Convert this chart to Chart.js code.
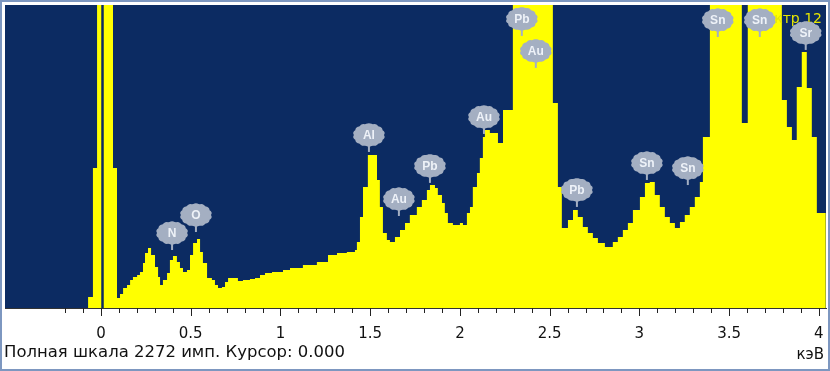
<!DOCTYPE html>
<html>
<head>
<meta charset="utf-8">
<script src="https://cdn.jsdelivr.net/npm/chart.js@4/dist/chart.umd.min.js"></script>
<style>
  html, body { margin: 0; padding: 0; background: #fff; }
  canvas { display: block; }
</style>
</head>
<body>
<canvas id="spectrum" width="830" height="371"></canvas>
<script>
// ── Data ──────────────────────────────────────────────────────────────────────
// step start energy, keV
const channelKeV = [
  -0.535, -0.072, -0.045, -0.022, 0.067, 0.089, 0.106, 0.123, 0.145, 0.162,
  0.178, 0.201, 0.217, 0.234, 0.245, 0.262, 0.279, 0.301, 0.318, 0.329,
  0.345, 0.368, 0.384, 0.401, 0.423, 0.440, 0.457, 0.479, 0.496, 0.513,
  0.535, 0.552, 0.568, 0.591, 0.618, 0.635, 0.652, 0.674, 0.691, 0.708,
  0.735, 0.763, 0.791, 0.830, 0.858, 0.886, 0.914, 0.953, 1.014, 1.053,
  1.125, 1.203, 1.265, 1.315, 1.370, 1.415, 1.426, 1.443, 1.460, 1.487,
  1.538, 1.554, 1.571, 1.593, 1.610, 1.638, 1.666, 1.694, 1.721, 1.760,
  1.788, 1.816, 1.833, 1.861, 1.877, 1.900, 1.916, 1.933, 1.961, 2.000,
  2.017, 2.039, 2.056, 2.072, 2.095, 2.111, 2.128, 2.139, 2.167, 2.212,
  2.240, 2.295, 2.518, 2.546, 2.568, 2.602, 2.630, 2.657, 2.685, 2.713,
  2.741, 2.769, 2.808, 2.852, 2.880, 2.908, 2.936, 2.964, 3.003, 3.031,
  3.058, 3.086, 3.114, 3.142, 3.170, 3.198, 3.226, 3.253, 3.281, 3.309,
  3.337, 3.354, 3.393, 3.571, 3.604, 3.794, 3.822, 3.850, 3.877, 3.905,
  3.933, 3.961, 3.989, 4.039
];
// counts per step (full scale 2272)
const counts = [
  0, 82, 1050, 2272, 1050, 75, 105, 150, 172, 210,
  232, 248, 270, 338, 412, 450, 398, 308, 232, 172,
  210, 262, 360, 390, 345, 300, 270, 285, 398, 488,
  518, 420, 338, 225, 210, 172, 150, 158, 195, 225,
  225, 202, 210, 218, 225, 248, 262, 270, 285, 300,
  322, 345, 398, 412, 420, 435, 495, 682, 908, 1148,
  960, 758, 562, 510, 495, 532, 585, 638, 698, 758,
  810, 885, 922, 900, 848, 788, 712, 638, 622, 638,
  622, 712, 758, 908, 1012, 1125, 1282, 1335, 1312, 1238,
  1485, 2272, 1538, 908, 600, 660, 735, 682, 608, 562,
  525, 488, 458, 495, 532, 585, 638, 735, 832, 938,
  945, 848, 758, 682, 638, 600, 645, 698, 758, 832,
  945, 1282, 2272, 1388, 2272, 1560, 1358, 1260, 1658, 1920,
  1650, 1282, 712, 712
];

const tickKeV = [
  -0.2, -0.1, 0, 0.1, 0.2, 0.3, 0.4, 0.5, 0.6, 0.7, 0.8, 0.9, 1, 1.1, 1.2,
  1.3, 1.4, 1.5, 1.6, 1.7, 1.8, 1.9, 2, 2.1, 2.2, 2.3, 2.4, 2.5, 2.6, 2.7,
  2.8, 2.9, 3, 3.1, 3.2, 3.3, 3.4, 3.5, 3.6, 3.7, 3.8, 3.9, 4
];

const peakNames = ["N", "O", "Al", "Au", "Pb", "Au", "Pb", "Au", "Pb", "Sn", "Sn", "Sn", "Sn", "Sr"];
const peakKeV   = [0.396, 0.529, 1.493, 1.660, 1.833, 2.134, 2.345, 2.423, 2.652, 3.042, 3.270, 3.437, 3.671, 3.927];
const peakTip   = [435, 570, 1170, 690, 938, 1305, 2040, 1800, 758, 960, 922, 2032, 2032, 1935];

const fullScale = 2272;
const cursorKeV = 0;
const spectrumName = "Спектр 12";
const captionText = "Полная шкала 2272 имп. Курсор: 0.000";
const unitText = "кэВ";

// ── Style ─────────────────────────────────────────────────────────────────────
const NAVY = "#0c2b62";
const YELLOW = "#ffff00";
const BADGE = "#a4afc2";
const FONT = "DejaVu Sans";

const isMajor = v => Math.abs(v * 2 - Math.round(v * 2)) < 1e-6;

// backdrop, cursor, peak badges, tick marks and captions
const spectrumDecor = {
    id: "spectrumDecor",
    beforeDraw(chart) {
        const { ctx, chartArea: a, width, height } = chart;
        ctx.save();
        ctx.fillStyle = "#fff";
        ctx.fillRect(0, 0, width, height);
        ctx.fillStyle = NAVY;
        ctx.fillRect(a.left, a.top, a.right - a.left, a.bottom - a.top);
        ctx.restore();
    },
    afterDatasetsDraw(chart) {
        const { ctx, chartArea: a } = chart;
        const x = chart.scales.x, y = chart.scales.y;
        ctx.save();

        // cursor line
        const cx = x.getPixelForValue(cursorKeV) + 1.5;
        ctx.strokeStyle = NAVY;
        ctx.lineWidth = 2.5;
        ctx.beginPath();
        ctx.moveTo(cx, a.top);
        ctx.lineTo(cx, a.bottom);
        ctx.stroke();

        // spectrum name, top right
        ctx.fillStyle = "#e6e600";
        ctx.font = `14px ${FONT}`;
        ctx.textAlign = "right";
        ctx.textBaseline = "middle";
        ctx.fillText(spectrumName, a.right - 4, a.top + 14);

        // peak badges
        peakNames.forEach((name, i) => {
            const px = x.getPixelForValue(peakKeV[i]);
            const tip = y.getPixelForValue(peakTip[i]);
            const by = tip - 17;
            const rx = 15, ry = 11;

            ctx.strokeStyle = BADGE;
            ctx.lineWidth = 2;
            ctx.beginPath();
            ctx.moveTo(px, by + ry - 2);
            ctx.lineTo(px, tip);
            ctx.stroke();

            ctx.fillStyle = BADGE;
            ctx.beginPath();
            for (let k = 0; k <= 72; k++) {
                const t = (k / 72) * Math.PI * 2;
                const bump = 1 + 0.07 * Math.abs(Math.sin(t * 7));
                const qx = px + Math.cos(t) * rx * bump;
                const qy = by + Math.sin(t) * ry * bump;
                if (k === 0) ctx.moveTo(qx, qy); else ctx.lineTo(qx, qy);
            }
            ctx.closePath();
            ctx.fill();

            ctx.fillStyle = "#eef2f8";
            ctx.font = `bold 12px "Liberation Sans"`;
            ctx.textAlign = "center";
            ctx.textBaseline = "middle";
            ctx.fillText(name, px, by + 1);
        });
        ctx.restore();
    },
    afterDraw(chart) {
        const { ctx, chartArea: a, width, height } = chart;
        const x = chart.scales.x;
        ctx.save();

        // tick marks
        ctx.strokeStyle = "#222";
        ctx.lineWidth = 1;
        for (const t of x.ticks) {
            const px = Math.round(x.getPixelForValue(t.value)) + 0.5;
            const len = isMajor(t.value) ? 8 : 5;
            ctx.beginPath();
            ctx.moveTo(px, a.bottom);
            ctx.lineTo(px, a.bottom + len);
            ctx.stroke();
        }

        // caption and unit, stretched to the original width
        ctx.fillStyle = "#111";
        ctx.font = `15px ${FONT}`;
        ctx.textBaseline = "middle";
        ctx.textAlign = "left";
        const w = ctx.measureText(captionText).width;
        ctx.save();
        ctx.translate(4, 353);
        ctx.scale(341 / w, 1);
        ctx.fillText(captionText, 0, 0);
        ctx.restore();
        ctx.textAlign = "right";
        ctx.fillText(unitText, 824, 355);

        // outer frame
        ctx.strokeStyle = "#7d97c0";
        ctx.lineWidth = 2;
        ctx.strokeRect(1, 1, width - 2, height - 2);
        ctx.restore();
    }
};

const points = channelKeV.map((e, i) => ({ x: e, y: counts[i] }));

new Chart(document.getElementById("spectrum"), {
    type: "line",
    data: {
        datasets: [{
            data: points,
            stepped: "before",
            fill: "origin",
            backgroundColor: YELLOW,
            borderWidth: 0,
            pointRadius: 0,
        }]
    },
    options: {
        responsive: false,
        animation: false,
        devicePixelRatio: 1,
        layout: { padding: { left: 5, right: 4, top: 5, bottom: 0 } },
        plugins: {
            legend: { display: false },
            tooltip: { enabled: false },
        },
        scales: {
            x: {
                type: "linear",
                min: -0.535,
                max: 4.04,
                afterBuildTicks: scale => {
                    scale.ticks = tickKeV.map(v => ({ value: v }));
                },
                afterFit: scale => {
                    scale.height = 63;
                    scale.paddingLeft = 0;
                    scale.paddingRight = 0;
                },
                ticks: {
                    autoSkip: false,
                    maxRotation: 0,
                    padding: 9,
                    color: "#111",
                    font: { family: FONT, size: 15 },
                    callback: v => isMajor(v) ? String(+v.toFixed(1)) : "",
                },
                grid: {
                    drawOnChartArea: false,
                    drawTicks: true,
                    tickLength: 8,
                    tickColor: "transparent",
                },
                border: { display: true, color: "#333", width: 1 },
            },
            y: {
                display: false,
                min: 0,
                max: fullScale,
            }
        }
    },
    plugins: [spectrumDecor],
});
</script>
</body>
</html>
